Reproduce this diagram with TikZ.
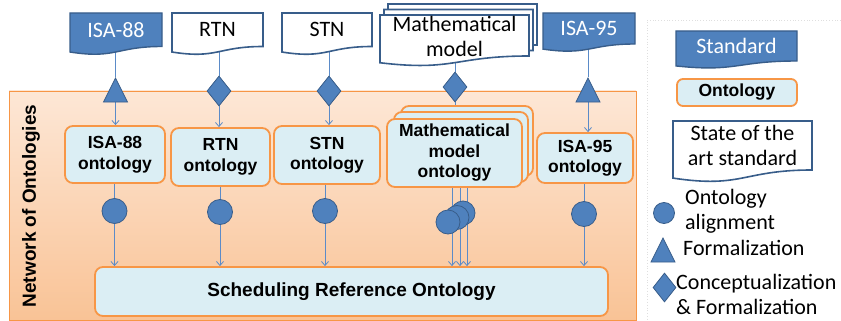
\documentclass[tikz,border=0pt]{standalone}
\usepackage{fontspec}
\setmainfont{Carlito}
\newfontfamily\arialf{Liberation Sans}
\usetikzlibrary{shapes.geometric,arrows.meta,calc}
\definecolor{stdblue}{HTML}{4F81BD}
\definecolor{stdborder}{HTML}{385D8A}
\definecolor{ontfill}{HTML}{DBEEF4}
\definecolor{ontborder}{HTML}{F79646}
\definecolor{lineblue}{HTML}{5B8BC8}
\definecolor{paneltop}{HTML}{FDE7D6}
\definecolor{panelbot}{HTML}{F9C396}
\pgfdeclarelayer{bg}\pgfdeclarelayer{lines}\pgfsetlayers{bg,lines,main}
\newcommand\docpath[4]{(#1,#2) -- (#3,#2) -- (#3,#4) .. controls ({(#1+#3)/2},#4) and ({(#1+#3)/2},{#4+0.38*(#4-#2)}) .. (#1,{#4+0.165*(#4-#2)}) -- cycle}
\tikzset{
 stddoc/.style={fill=stdblue, draw=stdborder, line width=1.4pt},
 soadoc/.style={fill=white, draw=stdborder, line width=1.6pt},
 stdtext/.style={font=\fontsize{22}{25}\selectfont, inner sep=0pt, align=center},
 ont/.style={rounded corners=8pt, fill=ontfill, draw=ontborder, line width=1.8pt, align=center, font=\arialf\bfseries\fontsize{17.5}{20.5}\selectfont, inner sep=0pt},
 sym/.style={fill=stdblue, draw=stdborder, line width=0.8pt, inner sep=0pt},
 tri/.style={sym, isosceles triangle, shape border rotate=90, isosceles triangle stretches, minimum width=24pt, minimum height=24pt, anchor=north},
 dia/.style={sym, diamond, minimum width=24pt, minimum height=30pt},
 circ/.style={sym, circle, minimum size=25pt},
 conn/.style={draw=lineblue, line width=0.8pt},
 arr/.style={conn, -{Straight Barb[length=4pt,width=7pt]}},
 legtext/.style={font=\fontsize{22}{25}\selectfont, align=left, inner sep=0pt, anchor=west},
}
\begin{document}
\begin{tikzpicture}[x=1pt,y=-1pt]
\useasboundingbox (0,0) rectangle (841,321);
\begin{pgfonlayer}{bg}
\path[top color=paneltop, bottom color=panelbot, draw=ontborder, line width=0.6pt] (9,91) rectangle (636,320);
\draw[gray!25, dotted, line width=0.8pt] (841,20) -- (647,20) -- (647,321);
\end{pgfonlayer}
\node[rotate=90, font=\arialf\bfseries\fontsize{19}{22}\selectfont] (netlabel) at (31,206) {Network of Ontologies};
% standards
\draw[stddoc] \docpath{70}{13}{162}{46.5};
\node[stdtext, text=white, minimum width=92pt, minimum height=33.5pt] (sISA88) at (116,29.75) {ISA-88};
\draw[soadoc] \docpath{172}{13}{263}{46.5};
\node[stdtext, minimum width=91pt, minimum height=33.5pt] (sRTN) at (217.5,29.75) {RTN};
\draw[soadoc] \docpath{282}{13}{372}{46.5};
\node[stdtext, minimum width=90pt, minimum height=33.5pt] (sSTN) at (327,29.75) {STN};
\draw[soadoc] \docpath{388}{4}{537}{45};
\draw[soadoc] \docpath{384}{9.5}{533}{50.5};
\draw[soadoc] \docpath{380}{15}{529}{56};
\node[stdtext, minimum width=149pt, minimum height=41pt] (sMath) at (454.5,36.5) {Mathematical\\model};
\draw[stddoc] \docpath{543}{13}{635}{44};
\node[stdtext, text=white, minimum width=92pt, minimum height=31pt] (sISA95) at (589,28.5) {ISA-95};
% symbols
\node[tri] (tISA88) at (115.5,77) {};
\node[dia] (dRTN) at (219,91) {};
\node[dia] (dSTN) at (329,91) {};
\node[dia] (dMath) at (455,87) {};
\node[tri] (tISA95) at (588,77) {};
% ontologies
\node[ont, minimum width=100pt, minimum height=57pt] (oISA88) at (115,154.5) {ISA-88\\ontology};
\node[ont, minimum width=99pt, minimum height=58pt] (oRTN) at (220.5,157) {RTN\\ontology};
\node[ont, minimum width=106pt, minimum height=58pt] (oSTN) at (327,155) {STN\\ontology};
\node[ont, minimum width=132pt, minimum height=70pt] (oMathB) at (467,141) {};
\node[ont, minimum width=134pt, minimum height=70pt] (oMathM) at (461,147) {};
\node[ont, minimum width=135pt, minimum height=68pt] (oMath) at (454.5,153) {Mathematical\\model\\ontology};
\node[ont, minimum width=96pt, minimum height=50pt] (oISA95) at (585,158) {ISA-95\\ontology};
% alignment circles
\node[circ] (cISA88) at (114.5,211) {};
\node[circ] (cRTN) at (220,212) {};
\node[circ] (cSTN) at (325,211) {};
\coordinate (m1) at (452,187);
\coordinate (m2) at (460,187);
\coordinate (m3) at (467,187);
\node[circ, minimum size=24pt] (cM1) at (463,213) {};
\node[circ, minimum size=24pt] (cM2) at (457,217.5) {};
\node[circ, minimum size=24pt] (cM3) at (448,222) {};
\node[circ] (cISA95) at (584,214) {};
% reference ontology
\node[ont, minimum width=513pt, minimum height=49pt, font=\arialf\bfseries\fontsize{19}{22}\selectfont] (sched) at (351.5,291.5) {Scheduling Reference Ontology};
% connectors
\begin{pgfonlayer}{lines}
\draw[conn] (tISA88.north |- sISA88.south) -- (tISA88.north);
\draw[arr] (tISA88.south) -- (tISA88.south |- oISA88.north);
\draw[conn] (dRTN.north |- sRTN.south) -- (dRTN.north);
\draw[arr] (dRTN.south) -- (dRTN.south |- oRTN.north);
\draw[conn] (dSTN.north |- sSTN.south) -- (dSTN.north);
\draw[arr] (dSTN.south) -- (dSTN.south |- oSTN.north);
\draw[conn] (dMath.north |- sMath.south) -- (dMath.north);
\draw[arr] (dMath.south) -- (dMath.south |- oMathM.north);
\draw[conn] (tISA95.north |- sISA95.south) -- (tISA95.north);
\draw[arr] (tISA95.south) -- (tISA95.south |- oISA95.north);
\draw[conn] (cISA88.north |- oISA88.south) -- (cISA88.north);
\draw[arr] (cISA88.south) -- (cISA88.south |- sched.north);
\draw[conn] (cRTN.north |- oRTN.south) -- (cRTN.north);
\draw[arr] (cRTN.south) -- (cRTN.south |- sched.north);
\draw[conn] (cSTN.north |- oSTN.south) -- (cSTN.north);
\draw[arr] (cSTN.south) -- (cSTN.south |- sched.north);
\draw[arr] (m1) -- (m1 |- sched.north);
\draw[arr] (m2) -- (m2 |- sched.north);
\draw[arr] (m3) -- (m3 |- sched.north);
\draw[conn] (cISA95.north |- oISA95.south) -- (cISA95.north);
\draw[arr] (cISA95.south) -- (cISA95.south |- sched.north);
\end{pgfonlayer}
% legend
\draw[stddoc] \docpath{676}{31}{797}{61};
\node[stdtext, text=white, minimum width=121pt, minimum height=30pt] (lStd) at (736.5,46) {Standard};
\node[ont, rounded corners=6pt, minimum width=120pt, minimum height=27pt] (lOnt) at (737,92.5) {Ontology};
\draw[soadoc] \docpath{673}{121}{812}{170};
\node[stdtext, minimum width=139pt, minimum height=49pt] (lSoa) at (742.5,145.5) {State of the\\art standard};
\node[circ, minimum size=21pt] (lCirc) at (664,213) {};
\node[legtext] (lCircT) at (685,211) {Ontology\\alignment};
\node[tri] (lTri) at (663,237) {};
\node[legtext] (lTriT) at (683,248) {Formalization};
\node[dia, minimum width=23pt, minimum height=29pt] (lDia) at (664.5,287.5) {};
\node[legtext] (lDiaT) at (676,294) {Conceptualization\\\& Formalization};
\end{tikzpicture}
\end{document}
